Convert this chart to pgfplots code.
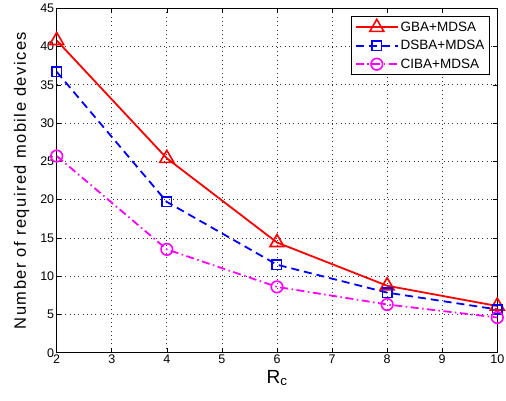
\documentclass[border=0pt]{standalone}
\usepackage{fontspec}
\setmainfont{Liberation Sans}
\usepackage{pgfplots}
\pgfplotsset{compat=1.18}
\definecolor{mmag}{rgb}{1,0,1}
\definecolor{mred}{rgb}{1,0,0}
\definecolor{mblue}{rgb}{0,0,1}
\begin{document}
\begin{tikzpicture}
\begin{axis}[
  scale only axis,
  width=440.6pt, height=344.4pt,
  xmin=2, xmax=10, ymin=0, ymax=45,
  xtick={2,3,...,10}, ytick={0,5,...,45},
  tick align=inside,
  major tick length=4.5pt,
  axis line style={line width=1pt},
  every tick/.style={black, line width=0.6pt},
  grid=major,
  major grid style={black!80, line width=0.7pt, dash pattern=on 0.7pt off 3.6pt},
  /pgf/number format/assume math mode=true,
  tick label style={font=\fontsize{12.5}{14}\selectfont},
  xticklabel style={yshift=1pt},
  yticklabel style={xshift=1pt},
  xlabel={R\textsubscript{c}},
  ylabel={\addfontfeature{LetterSpace=9}Number of required mobile devices},
  xlabel style={font=\fontsize{19}{21}\selectfont, yshift=1pt},
  ylabel style={font=\fontsize{16.5}{18}\selectfont, yshift=4pt},
  legend style={at={(0.983,0.978)}, anchor=north east, font=\fontsize{13.5}{16}\selectfont,
    draw=black, line width=0.9pt, inner xsep=3pt, inner ysep=3pt, row sep=3.5pt,
    cells={anchor=west}},
  legend image code/.code={
    \draw[mark repeat=2,mark phase=2] plot coordinates {(0pt,0pt) (21pt,0pt) (42pt,0pt)};
  },
]
\addplot[mred, line width=1.8pt, mark=triangle, mark size=8pt, mark options={solid, line width=1.6pt}]
  coordinates {(2,40.8) (4,25.4) (6,14.4) (8,8.75) (10,6.1)};
\addlegendentry{GBA+MDSA}
\addplot[mblue, line width=1.8pt, dash pattern=on 8pt off 5pt, mark=square, mark size=4.7pt, mark options={solid, line width=1.6pt}]
  coordinates {(2,36.7) (4,19.7) (6,11.5) (8,7.85) (10,5.65)};
\addlegendentry{DSBA+MDSA}
\addplot[mmag, line width=1.8pt, dash pattern=on 8pt off 3.5pt on 1.5pt off 3.5pt, mark=o, mark size=5.8pt, mark options={solid, line width=1.6pt}]
  coordinates {(2,25.7) (4,13.5) (6,8.6) (8,6.3) (10,4.6)};
\addlegendentry{CIBA+MDSA}
\end{axis}
\pgfresetboundingbox
\path (-56.7pt,-47.3pt) rectangle (449.3pt,352.7pt);
\end{tikzpicture}
\end{document}
